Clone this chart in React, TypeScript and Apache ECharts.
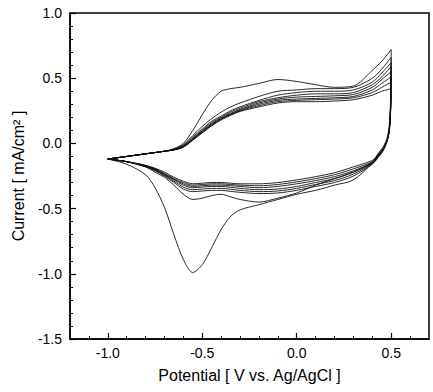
import React, { useEffect, useRef } from "react";
import * as echarts from "echarts";

// Potential grids (V vs. Ag/AgCl)
const POTENTIAL_FWD = [-1.0, -0.9, -0.8, -0.7, -0.65, -0.6, -0.55, -0.5, -0.45, -0.4, -0.35, -0.3, -0.2, -0.1, 0.0, 0.1, 0.2, 0.3, 0.4, 0.45, 0.5];
const POTENTIAL_REV = [0.5, 0.497, 0.49, 0.48, 0.46, 0.43, 0.4, 0.3, 0.2, 0.1, 0.0, -0.1, -0.2, -0.3, -0.35, -0.4, -0.45, -0.5, -0.55, -0.6, -0.65, -0.7, -0.75, -0.8, -0.9, -1.0];

// Current (mA/cm2) per cycle, anodic (forward) and cathodic (reverse) sweeps
const CYCLE1_FWD = [-0.12, -0.10, -0.08, -0.06, -0.04, 0.0, 0.10, 0.22, 0.33, 0.40, 0.42, 0.43, 0.46, 0.49, 0.475, 0.45, 0.43, 0.44, 0.56, 0.63, 0.72];
const CYCLE1_REV = [0.72, 0.35, 0.15, 0.05, -0.02, -0.08, -0.15, -0.28, -0.32, -0.36, -0.39, -0.43, -0.47, -0.51, -0.56, -0.66, -0.80, -0.93, -0.99, -0.89, -0.70, -0.49, -0.34, -0.24, -0.16, -0.12];

const CYCLE2_FWD = [-0.12, -0.10, -0.08, -0.06, -0.045, -0.01, 0.06, 0.13, 0.19, 0.24, 0.28, 0.31, 0.36, 0.40, 0.41, 0.42, 0.42, 0.43, 0.50, 0.57, 0.66];
const CYCLE2_REV = [0.66, 0.30, 0.12, 0.03, -0.04, -0.10, -0.15, -0.22, -0.27, -0.32, -0.38, -0.42, -0.45, -0.43, -0.41, -0.39, -0.40, -0.42, -0.43, -0.39, -0.32, -0.26, -0.22, -0.18, -0.14, -0.12];

const CYCLE3_FWD = [-0.12, -0.10, -0.08, -0.06, -0.045, -0.015, 0.05, 0.11, 0.17, 0.21, 0.25, 0.28, 0.33, 0.37, 0.39, 0.40, 0.40, 0.41, 0.47, 0.54, 0.62];
const CYCLE3_REV = [0.62, 0.30, 0.11, 0.03, -0.05, -0.11, -0.16, -0.25, -0.30, -0.33, -0.36, -0.38, -0.385, -0.375, -0.368, -0.36, -0.36, -0.365, -0.37, -0.35, -0.30, -0.25, -0.21, -0.18, -0.14, -0.12];

const CYCLE4_FWD = [-0.12, -0.10, -0.08, -0.06, -0.047, -0.02, 0.04, 0.10, 0.16, 0.20, 0.24, 0.27, 0.32, 0.35, 0.37, 0.38, 0.38, 0.39, 0.45, 0.51, 0.59];
const CYCLE4_REV = [0.59, 0.29, 0.11, 0.03, -0.045, -0.105, -0.155, -0.235, -0.285, -0.315, -0.345, -0.365, -0.37, -0.36, -0.352, -0.345, -0.345, -0.35, -0.355, -0.335, -0.29, -0.245, -0.205, -0.178, -0.14, -0.12];

const CYCLE5_FWD = [-0.12, -0.10, -0.08, -0.06, -0.048, -0.022, 0.035, 0.095, 0.15, 0.195, 0.23, 0.26, 0.31, 0.34, 0.355, 0.36, 0.365, 0.375, 0.43, 0.49, 0.55];
const CYCLE5_REV = [0.55, 0.28, 0.10, 0.03, -0.04, -0.10, -0.15, -0.22, -0.27, -0.30, -0.33, -0.35, -0.355, -0.345, -0.337, -0.33, -0.33, -0.335, -0.34, -0.32, -0.28, -0.24, -0.20, -0.175, -0.14, -0.12];

const CYCLE6_FWD = [-0.12, -0.10, -0.08, -0.06, -0.05, -0.025, 0.03, 0.09, 0.145, 0.19, 0.225, 0.255, 0.30, 0.33, 0.34, 0.345, 0.35, 0.36, 0.41, 0.46, 0.51];
const CYCLE6_REV = [0.51, 0.27, 0.10, 0.03, -0.04, -0.095, -0.145, -0.21, -0.255, -0.285, -0.31, -0.33, -0.34, -0.33, -0.325, -0.32, -0.32, -0.325, -0.33, -0.31, -0.275, -0.235, -0.198, -0.172, -0.14, -0.12];

const CYCLE7_FWD = [-0.12, -0.10, -0.08, -0.06, -0.05, -0.027, 0.028, 0.085, 0.14, 0.185, 0.22, 0.25, 0.29, 0.32, 0.33, 0.335, 0.34, 0.35, 0.39, 0.43, 0.47];
const CYCLE7_REV = [0.47, 0.26, 0.10, 0.03, -0.035, -0.09, -0.14, -0.195, -0.24, -0.27, -0.295, -0.315, -0.325, -0.32, -0.315, -0.31, -0.31, -0.315, -0.32, -0.30, -0.27, -0.23, -0.195, -0.17, -0.14, -0.12];

const CYCLE8_FWD = [-0.12, -0.10, -0.08, -0.06, -0.05, -0.03, 0.025, 0.08, 0.135, 0.18, 0.215, 0.245, 0.28, 0.31, 0.32, 0.32, 0.325, 0.335, 0.37, 0.40, 0.42];
const CYCLE8_REV = [0.42, 0.25, 0.10, 0.03, -0.035, -0.085, -0.13, -0.18, -0.225, -0.255, -0.28, -0.30, -0.31, -0.31, -0.305, -0.30, -0.30, -0.305, -0.31, -0.29, -0.26, -0.22, -0.19, -0.168, -0.14, -0.12];

const CYCLES = [
  { name: "Cycle 1", fwd: CYCLE1_FWD, rev: CYCLE1_REV },
  { name: "Cycle 2", fwd: CYCLE2_FWD, rev: CYCLE2_REV },
  { name: "Cycle 3", fwd: CYCLE3_FWD, rev: CYCLE3_REV },
  { name: "Cycle 4", fwd: CYCLE4_FWD, rev: CYCLE4_REV },
  { name: "Cycle 5", fwd: CYCLE5_FWD, rev: CYCLE5_REV },
  { name: "Cycle 6", fwd: CYCLE6_FWD, rev: CYCLE6_REV },
  { name: "Cycle 7", fwd: CYCLE7_FWD, rev: CYCLE7_REV },
  { name: "Cycle 8", fwd: CYCLE8_FWD, rev: CYCLE8_REV },
];

const X_MAJOR_TICKS = [-1.0, -0.5, 0.0, 0.5];
const X_MINOR_TICKS = [-1.1, -1.0, -0.9, -0.8, -0.7, -0.6, -0.5, -0.4, -0.3, -0.2, -0.1, 0.0, 0.1, 0.2, 0.3, 0.4, 0.5, 0.6];

const X_TITLE = "Potential [ V vs. Ag/AgCl ]";
const Y_TITLE = "Current [ mA/cm\u00B2 ]";

const FONT = '"Liberation Sans", Arial, Helvetica, sans-serif';

export default function App() {
  const ref = useRef<HTMLDivElement>(null);

  useEffect(() => {
    if (!ref.current) return;
    const chart = echarts.init(ref.current, null, { renderer: "svg" });

    const series = CYCLES.map((c) => {
      const data: number[][] = [];
      POTENTIAL_FWD.forEach((x, i) => data.push([x, c.fwd[i]]));
      POTENTIAL_REV.forEach((x, i) => {
        if (i > 0) data.push([x, c.rev[i]]);
      });
      return {
        name: c.name,
        type: "line",
        xAxisIndex: 0,
        yAxisIndex: 0,
        data,
        showSymbol: false,
        smooth: 0.3,
        lineStyle: { color: "#111", width: 0.9 },
        emphasis: { disabled: true },
      };
    });

    const option: any = {
      animation: false,
      backgroundColor: "#fff",
      grid: {
        left: 70,
        right: 4,
        top: 13,
        bottom: 53,
        show: true,
        borderColor: "#000",
        borderWidth: 1.5,
        backgroundColor: "transparent",
      },
      xAxis: [
        {
          type: "value",
          position: "bottom",
          min: -1.2,
          max: 0.7,
          name: X_TITLE,
          nameLocation: "middle",
          nameGap: 28,
          nameTextStyle: { fontSize: 16, fontFamily: FONT, color: "#000" },
          axisLine: { show: true, onZero: false, lineStyle: { color: "#000", width: 1.5 } },
          axisTick: { show: true, inside: true, length: 6, customValues: X_MAJOR_TICKS, lineStyle: { color: "#000", width: 1.2 } },
          axisLabel: {
            show: true,
            customValues: X_MAJOR_TICKS,
            formatter: (v: number) => v.toFixed(1),
            fontSize: 14,
            fontFamily: FONT,
            color: "#000",
            margin: 7,
          },
          splitLine: { show: false },
        },
        {
          type: "value",
          position: "bottom",
          min: -1.2,
          max: 0.7,
          axisLine: { show: false, onZero: false },
          axisTick: { show: true, inside: true, length: 3, customValues: X_MINOR_TICKS, lineStyle: { color: "#000", width: 1 } },
          axisLabel: { show: false, customValues: X_MINOR_TICKS },
          splitLine: { show: false },
        },
      ],
      yAxis: [
        {
          type: "value",
          min: -1.5,
          max: 1.0,
          interval: 0.5,
          name: Y_TITLE,
          nameLocation: "middle",
          nameGap: 41,
          nameTextStyle: { fontSize: 16, fontFamily: FONT, color: "#000" },
          axisLine: { show: true, onZero: false, lineStyle: { color: "#000", width: 1.5 } },
          axisTick: { show: true, inside: true, length: 6, lineStyle: { color: "#000", width: 1.2 } },
          minorTick: { show: true, splitNumber: 5, length: 3, lineStyle: { color: "#000", width: 1 } },
          axisLabel: {
            formatter: (v: number) => v.toFixed(1),
            fontSize: 14,
            fontFamily: FONT,
            color: "#000",
            margin: 8,
          },
          splitLine: { show: false },
          minorSplitLine: { show: false },
        },
      ],
      series,
    };

    chart.setOption(option);
    return () => chart.dispose();
  }, []);

  return (
    <div
      ref={ref}
      style={{ position: "fixed", left: 0, top: 0, width: 433, height: 392, background: "#fff" }}
    />
  );
}
